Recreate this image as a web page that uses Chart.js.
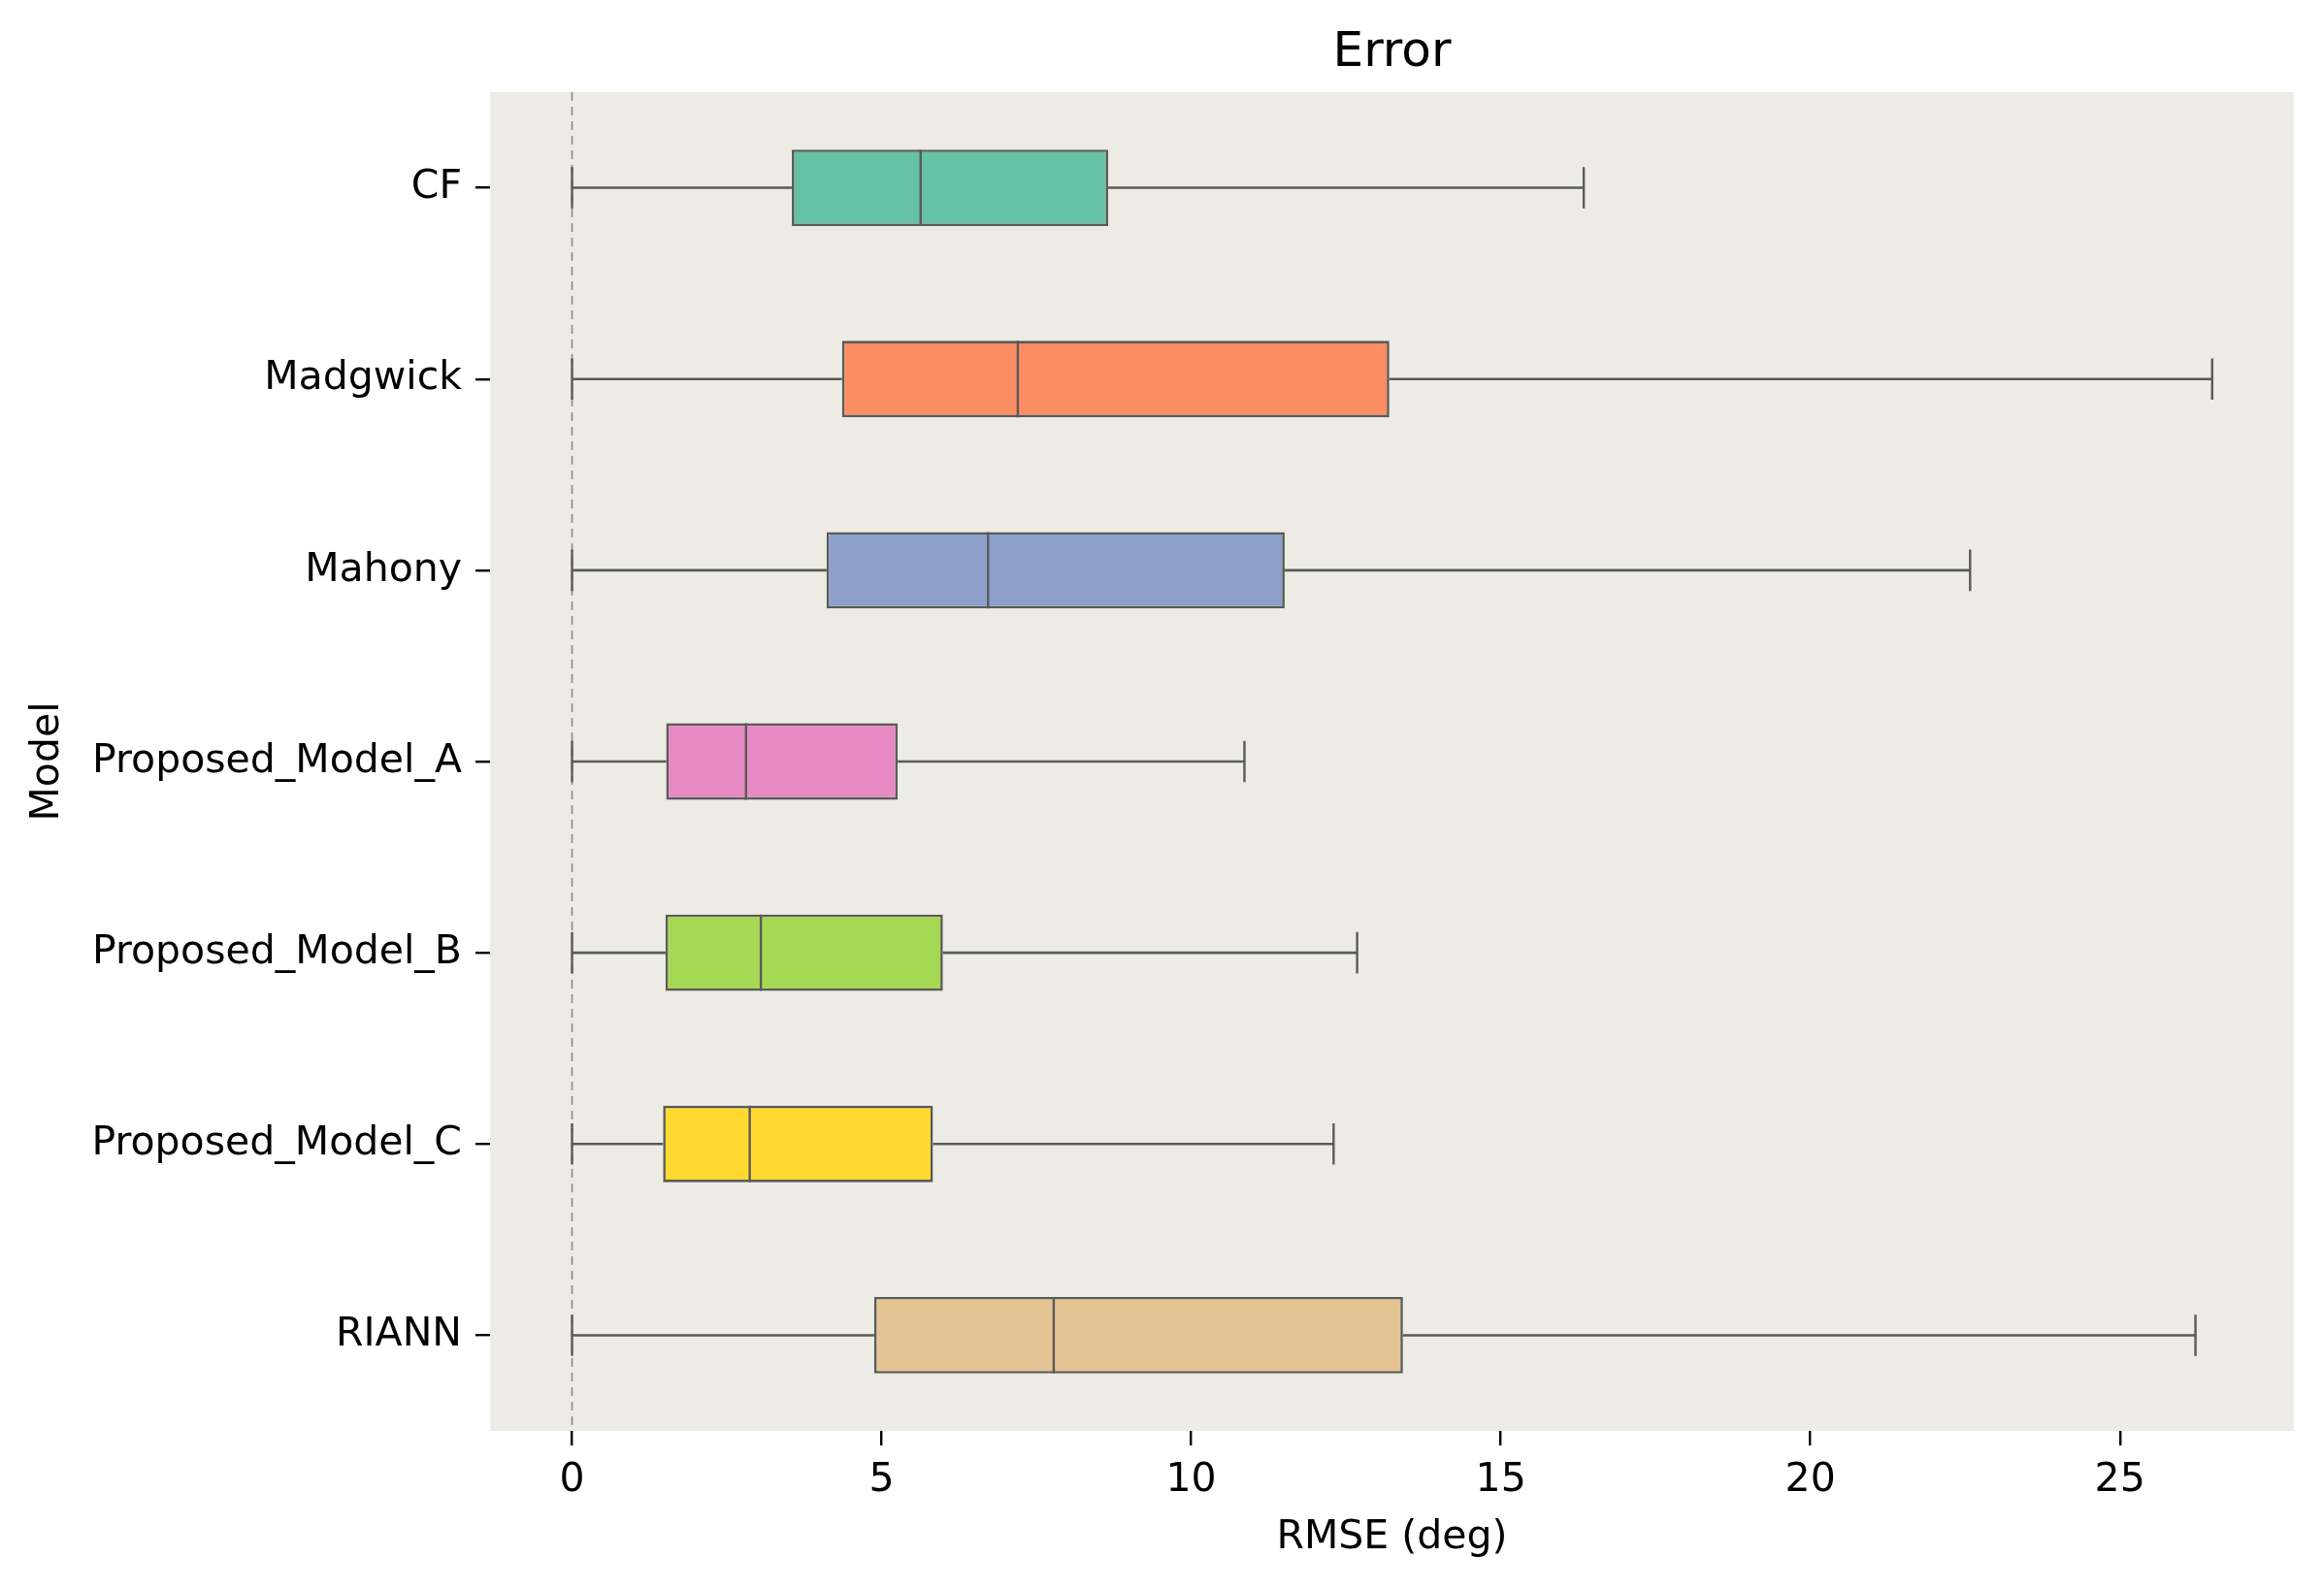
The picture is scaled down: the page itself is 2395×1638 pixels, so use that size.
<!DOCTYPE html>
<html>
<head>
<meta charset="utf-8">
<script src="https://cdn.jsdelivr.net/npm/chart.js@4.4.1/dist/chart.umd.min.js"></script>
<style>
    html, body { margin: 0; padding: 0; background: #ffffff; }
    #wrap { width: 2395px; height: 1638px; }
</style>
</head>
<body>
<div id="wrap"><canvas id="boxChart" width="2395" height="1638"></canvas></div>
<script>
// DONNÉES
const categories = ['CF', 'Madgwick', 'Mahony', 'Proposed_Model_A', 'Proposed_Model_B', 'Proposed_Model_C', 'RIANN'];
const whiskerLow = [0, 0, 0, 0, 0, 0, 0];
const q1 = [3.55, 4.36, 4.11, 1.52, 1.51, 1.47, 4.88];
const median = [5.63, 7.20, 6.72, 2.81, 3.05, 2.87, 7.78];
const q3 = [8.66, 13.20, 11.51, 5.26, 5.99, 5.83, 13.42];
const whiskerHigh = [16.34, 26.49, 22.58, 10.86, 12.68, 12.30, 26.22];
const xTicks = [0, 5, 10, 15, 20, 25];
const boxColors = ['#66c2a5', '#fc8d62', '#8da0cb', '#e78ac3', '#a6d854', '#ffd92f', '#e5c494'];

const FONT = 'DejaVu Sans';
const LINE = '#5a5a5a';

// Fond de la zone de tracé + ligne pointillée à x = 0
const backgroundPlugin = {
    id: 'plotBackground',
    beforeDraw(chart) {
        const { ctx, chartArea } = chart;
        ctx.save();
        ctx.fillStyle = '#edece4';
        ctx.fillRect(chartArea.left, chartArea.top, chartArea.width, chartArea.height);
        ctx.restore();
    },
    beforeDatasetsDraw(chart) {
        const { ctx, chartArea, scales } = chart;
        const x0 = scales.x.getPixelForValue(0);
        ctx.save();
        ctx.strokeStyle = '#8a8a8a';
        ctx.lineWidth = 1.6;
        ctx.setLineDash([9, 6]);
        ctx.beginPath();
        ctx.moveTo(x0, chartArea.top);
        ctx.lineTo(x0, chartArea.bottom);
        ctx.stroke();
        ctx.restore();
    }
};

// Moustaches, extrémités et médianes
const whiskerPlugin = {
    id: 'whiskers',
    afterDatasetsDraw(chart) {
        const { ctx, scales } = chart;
        const meta = chart.getDatasetMeta(0);
        ctx.save();
        ctx.strokeStyle = LINE;
        ctx.lineCap = 'butt';
        meta.data.forEach((bar, i) => {
            const y = bar.y;
            const h = bar.height;
            const capHalf = h * 0.27;
            const xLow = scales.x.getPixelForValue(whiskerLow[i]);
            const xQ1 = scales.x.getPixelForValue(q1[i]);
            const xQ3 = scales.x.getPixelForValue(q3[i]);
            const xHigh = scales.x.getPixelForValue(whiskerHigh[i]);
            const xMed = scales.x.getPixelForValue(median[i]);

            ctx.lineWidth = 2.6;
            ctx.beginPath();
            ctx.moveTo(xLow, y); ctx.lineTo(xQ1, y);
            ctx.moveTo(xQ3, y); ctx.lineTo(xHigh, y);
            ctx.stroke();

            ctx.lineWidth = 2.4;
            ctx.beginPath();
            ctx.moveTo(xLow, y - capHalf); ctx.lineTo(xLow, y + capHalf);
            ctx.moveTo(xHigh, y - capHalf); ctx.lineTo(xHigh, y + capHalf);
            ctx.moveTo(xMed, y - h / 2); ctx.lineTo(xMed, y + h / 2);
            ctx.stroke();
        });
        ctx.restore();
    }
};

const ctx = document.getElementById('boxChart').getContext('2d');
new Chart(ctx, {
    type: 'bar',
    data: {
        labels: categories,
        datasets: [{
            data: categories.map((c, i) => [q1[i], q3[i]]),
            backgroundColor: boxColors,
            borderColor: LINE,
            borderWidth: 2.6,
            borderSkipped: false,
            barPercentage: 0.4,
            categoryPercentage: 1
        }]
    },
    options: {
        indexAxis: 'y',
        responsive: false,
        devicePixelRatio: 1,
        animation: false,
        layout: { padding: { left: 0, right: 31, top: 0, bottom: 0 } },
        plugins: {
            legend: { display: false },
            tooltip: { enabled: false },
            title: {
                display: true,
                text: 'Error',
                fullSize: false,
                color: '#000',
                font: { family: FONT, size: 50, weight: 'normal' },
                padding: { top: 25, bottom: 10 }
            }
        },
        scales: {
            x: {
                type: 'linear',
                min: -1.3245,
                max: 27.81,
                afterBuildTicks: (scale) => {
                    scale.ticks = xTicks.map(v => ({ value: v }));
                },
                afterFit: (scale) => { scale.height = 163; },
                border: { display: false },
                grid: { drawOnChartArea: false, drawTicks: true, tickLength: 15, color: '#000', lineWidth: 2.4 },
                ticks: {
                    color: '#000',
                    padding: 12,
                    font: { family: FONT, size: 41 },
                    callback: (v) => String(v)
                },
                title: {
                    display: true,
                    text: 'RMSE (deg)',
                    color: '#000',
                    font: { family: FONT, size: 41 },
                    padding: { top: 0, bottom: 28 }
                }
            },
            y: {
                afterFit: (scale) => { scale.width = 505; },
                border: { display: false },
                grid: { offset: false, drawOnChartArea: false, drawTicks: true, tickLength: 15, color: '#000', lineWidth: 2.4 },
                ticks: {
                    color: '#000',
                    padding: 14,
                    font: { family: FONT, size: 41 }
                },
                title: {
                    display: true,
                    text: 'Model',
                    color: '#000',
                    font: { family: FONT, size: 41 },
                    padding: { top: 25, bottom: 0 }
                }
            }
        }
    },
    plugins: [backgroundPlugin, whiskerPlugin]
});
</script>
</body>
</html>
